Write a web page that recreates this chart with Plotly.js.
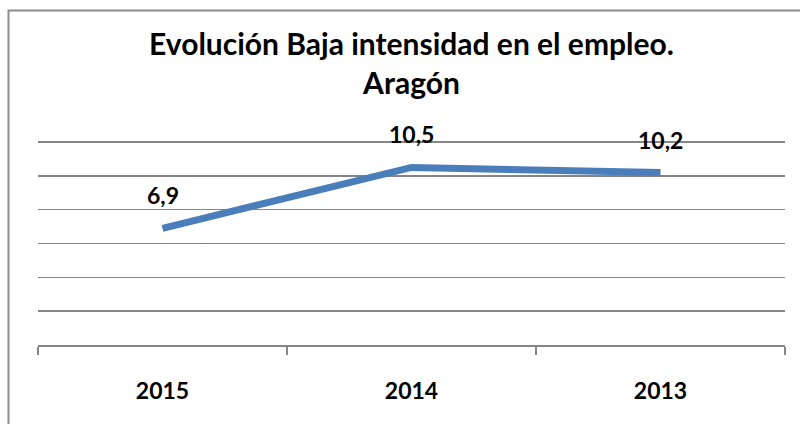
<!DOCTYPE html>
<html>
<head>
<meta charset="utf-8">
<script src="https://cdn.plot.ly/plotly-3.0.1.min.js"></script>
<style>html,body{margin:0;padding:0;background:#fff;}#chart{width:800px;height:424px;}</style>
</head>
<body>
<div id="chart"></div>
<script>
var years = ["2015", "2014", "2013"];
var values = [6.9, 10.5, 10.2];
var valueLabels = ["6,9", "10,5", "10,2"];
var titleText = "Evolución Baja intensidad en el empleo.<br>Aragón";

var FONT = "Lato, 'Open Sans', sans-serif";

var trace = {
  x: years,
  y: values,
  type: "scatter",
  mode: "lines",
  line: {color: "#4a7ebb", width: 7},
  hoverinfo: "x+y"
};

var annotations = years.map(function (yr, i) {
  return {
    x: i, y: values[i], xref: "x", yref: "y",
    text: valueLabels[i], showarrow: false,
    yshift: 33, yanchor: "middle",
    font: {family: FONT, size: 23, color: "#000", weight: "bold"}
  };
});

var layout = {
  width: 800, height: 424,
  margin: {l: 38, r: 15, t: 137, b: 79},
  paper_bgcolor: "#fff", plot_bgcolor: "#fff",
  showlegend: false,
  title: {
    text: titleText,
    font: {family: FONT, size: 30, color: "#000", weight: "bold"},
    x: 0.5, xanchor: "center", xref: "paper",
    y: 0.87, yanchor: "top", yref: "container"
  },
  xaxis: {
    type: "category",
    categoryorder: "array", categoryarray: years,
    range: [-0.5, years.length - 0.5],
    showgrid: false,
    showline: true, linecolor: "#868686", linewidth: 1.5,
    ticks: "outside", tickson: "boundaries", ticklen: 8, tickcolor: "#868686", tickwidth: 1.5,
    ticklabelstandoff: 25,
    tickangle: 0,
    tickfont: {family: FONT, size: 23, color: "#000", weight: "bold"},
    fixedrange: true
  },
  yaxis: {
    range: [0, 12.3], dtick: 2, tick0: 0,
    showgrid: true, gridcolor: "#868686", gridwidth: 1.5,
    showticklabels: false, ticks: "",
    zeroline: false, showline: false,
    fixedrange: true
  },
  annotations: annotations,
  shapes: [{
    type: "rect", xref: "paper", yref: "paper",
    x0: -0.0395, x1: 1.05, y0: -0.5, y1: (345 - 10.5) / 208,
    line: {color: "#8c8c8c", width: 2}, fillcolor: "rgba(0,0,0,0)", layer: "below"
  }]
};

Plotly.newPlot("chart", [trace], layout, {displayModeBar: false, staticPlot: true});
</script>
</body>
</html>
